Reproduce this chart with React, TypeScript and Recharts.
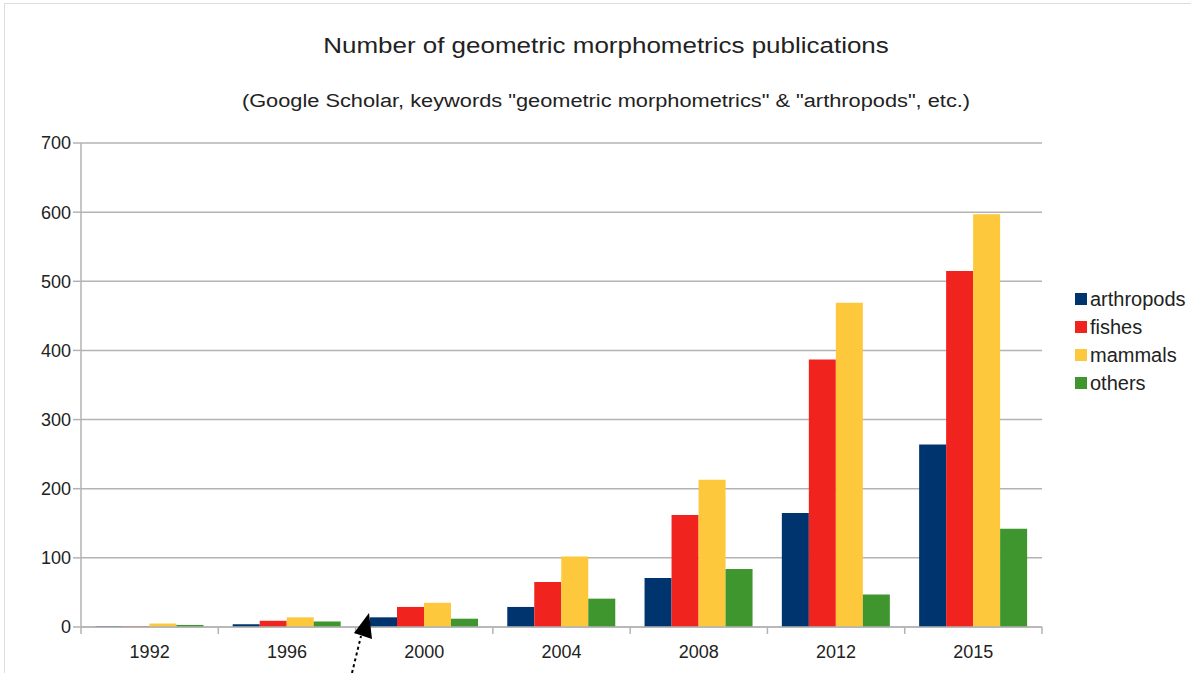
import React from "react";
import {
  BarChart,
  Bar,
  XAxis,
  YAxis,
  CartesianGrid,
  Legend,
} from "recharts";

const years = ["1992", "1996", "2000", "2004", "2008", "2012", "2015"];
const arthropods = [1, 4, 14, 29, 71, 165, 264];
const fishes = [1, 9, 29, 65, 162, 387, 515];
const mammals = [5, 14, 35, 102, 213, 469, 597];
const others = [3, 8, 12, 41, 84, 47, 142];
const yTicks = [0, 100, 200, 300, 400, 500, 600, 700];

const series = [
  { key: "arthropods", color: "#00346f" },
  { key: "fishes", color: "#f0231e" },
  { key: "mammals", color: "#fdc83b" },
  { key: "others", color: "#3f962f" },
];

const data = years.map((year, i) => ({
  year,
  arthropods: arthropods[i],
  fishes: fishes[i],
  mammals: mammals[i],
  others: others[i],
}));

const font = "'Liberation Sans', Arial, sans-serif";
const gray = "#b3b3b3";

function YearTick(props: any) {
  const { x, y, payload, index } = props;
  const half = payload.offset || 0;
  const last = index === years.length - 1;
  return (
    <g>
      <line x1={x - half} x2={x - half} y1={y - 8} y2={y - 1} stroke={gray} strokeWidth={1.5} />
      {last && (
        <line x1={x + half} x2={x + half} y1={y - 8} y2={y - 1} stroke={gray} strokeWidth={1.5} />
      )}
      <text x={x} y={y + 23} textAnchor="middle" fill="#222" fontSize={18} fontFamily={font}>
        {payload.value}
      </text>
    </g>
  );
}

function LegendBox() {
  return (
    <div style={{ fontFamily: font, fontSize: 20, color: "#222" }}>
      {series.map((s) => (
        <div key={s.key} style={{ display: "flex", alignItems: "center", height: 28 }}>
          <span style={{ width: 12, height: 12, background: s.color, marginRight: 3 }} />
          {s.key}
        </div>
      ))}
    </div>
  );
}

export default function App() {
  return (
    <div style={{ position: "absolute", left: 0, top: 0, width: 1191, height: 673, background: "#fff", overflow: "hidden" }}>
      <div style={{ position: "absolute", left: 4, top: 3, width: 1200, height: 700, borderTop: "1px solid #ddd", borderLeft: "1px solid #ddd" }} />
      <div style={{ position: "absolute", left: 0, width: 1212, top: 33, textAlign: "center", fontFamily: font, fontSize: 22, color: "#222", transform: "scaleX(1.18)" }}>
        Number of geometric morphometrics publications
      </div>
      <div style={{ position: "absolute", left: 0, width: 1212, top: 91, textAlign: "center", fontFamily: font, fontSize: 18, color: "#222", transform: "scaleX(1.21)" }}>
        (Google Scholar, keywords "geometric morphometrics" &amp; "arthropods", etc.)
      </div>
      <BarChart
        width={1191}
        height={673}
        data={data}
        margin={{ top: 143, right: 149, left: 0, bottom: 0 }}
        barCategoryGap="10.5%"
        barGap={0}
      >
        <CartesianGrid vertical={false} stroke={gray} strokeWidth={1.5} />
        <XAxis
          dataKey="year"
          height={46}
          axisLine={{ stroke: gray, strokeWidth: 1.5 }}
          tickLine={false}
          tick={<YearTick />}
          interval={0}
        />
        <YAxis
          domain={[0, 700]}
          ticks={yTicks}
          width={81}
          axisLine={{ stroke: gray, strokeWidth: 1.5 }}
          tickLine={{ stroke: gray, strokeWidth: 1.5 }}
          tickSize={8}
          tick={{ fill: "#222", fontSize: 18, fontFamily: font }}
          interval={0}
        />
        <YAxis
          yAxisId="frame"
          orientation="right"
          width={0}
          domain={[0, 700]}
          tick={false}
          tickLine={false}
          axisLine={{ stroke: gray, strokeWidth: 1.5 }}
        />
        <Legend
          layout="horizontal"
          align="center"
          verticalAlign="middle"
          content={<LegendBox />}
          wrapperStyle={{ left: 1075, top: 285, width: 130 }}
        />
        {series.map((s) => (
          <Bar key={s.key} dataKey={s.key} fill={s.color} isAnimationActive={false} />
        ))}
      </BarChart>
      <svg style={{ position: "absolute", left: 0, top: 0 }} width={1191} height={673}>
        <line x1={352} y1={673} x2={361} y2={636} stroke="#000" strokeWidth={2} strokeDasharray="3 3" />
        <polygon points="369,613 354,633 372,639" fill="#000" />
      </svg>
    </div>
  );
}
